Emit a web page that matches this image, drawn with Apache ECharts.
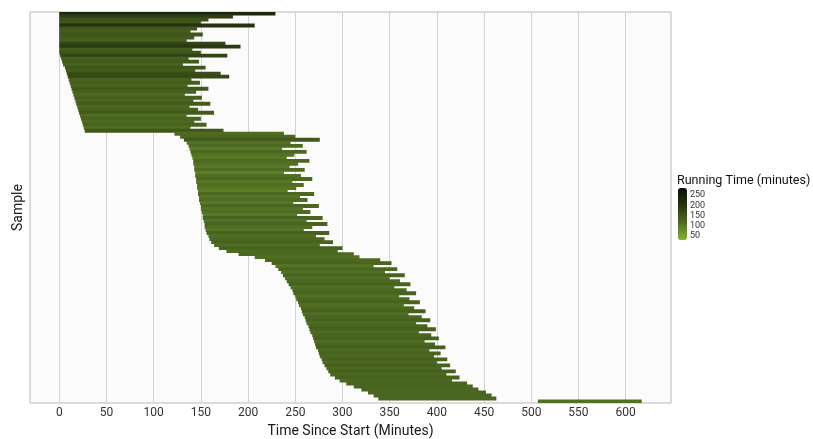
<!DOCTYPE html>
<html>
<head>
<meta charset="utf-8">
<script src="https://cdn.jsdelivr.net/npm/echarts@6/dist/echarts.min.js"></script>
<style>
  html, body { margin: 0; padding: 0; background: #fff; }
  #chart { width: 813px; height: 439px; }
</style>
</head>
<body>
<div id="chart"></div>
<script>
// start of each sample, minutes since start (top row first)
var starts = [
  0, 0, 0, 0, 0, 0, 0, 0, 0, 0, 0, 0, 0, 0,
  1, 2, 3, 4, 6, 7, 8, 9, 10, 11, 12, 13, 14, 15, 16, 17, 18, 19, 20, 21, 22, 23, 24, 25, 26, 27,
  122, 128, 132, 135, 137, 138, 139, 140, 141, 142, 142, 143, 143, 144, 144, 145, 145, 146, 146, 147,
  147, 148, 148, 149, 150, 150, 151, 152, 152, 153, 154, 154, 155, 156, 158, 159, 161, 164, 169, 177,
  190, 207,
  218, 225, 229, 232, 235, 237, 239, 241, 243, 245, 247, 248, 250, 251, 253, 254, 256, 257, 258, 260,
  261, 262, 264, 265, 266, 268, 269, 270, 271, 272, 274, 275, 276, 278, 279, 281, 283, 285, 287, 292,
  297, 304, 312, 320, 327, 333, 338, 507
];

// running time of each sample, minutes
var runTimes = [
  229, 184, 158, 150, 207, 146, 139, 152, 143, 135, 176, 192, 141, 150,
  177, 135, 145, 127, 149, 137, 163, 171, 130, 138, 124, 145, 131, 118, 135, 125, 142, 119, 127, 143,
  113, 127, 119, 131, 113, 147,
  116, 122, 144, 110, 121, 98, 123, 109, 100, 123, 111, 101, 117, 94, 112, 123, 102, 113, 105, 95,
  123, 107, 115, 99, 125, 108, 115, 100, 127, 109, 130, 114, 104, 130, 114, 122, 129, 112, 131, 118,
  122, 111,
  122, 127, 104, 126, 110, 129, 111, 120, 129, 110, 121, 130, 110, 120, 129, 111, 120, 131, 112, 124,
  132, 116, 126, 134, 115, 126, 133, 117, 127, 137, 118, 129, 121, 133, 121, 133, 122, 135, 123, 132,
  119, 128, 126, 124, 125, 125, 125, 110
];

var xTicks = [0, 50, 100, 150, 200, 250, 300, 350, 400, 450, 500, 550, 600];
var legendTicks = [50, 100, 150, 200, 250];
var rtMin = 30, rtMax = 285;

var samples = starts.map(function (s, i) { return 'S' + (i + 1); });
// [running time, sample, running time] -> third column drives the colour
var runData = runTimes.map(function (d, i) { return [d, samples[i], d]; });
var startData = starts.map(function (s, i) { return [s, samples[i]]; });

var barTop = 188, barH = 52;
var legendGraphics = [{
  type: 'text', left: 677, top: 174,
  style: { text: 'Running Time (minutes)', font: '12.5px Roboto', fill: '#111' }
}];
legendTicks.forEach(function (v) {
  legendGraphics.push({
    type: 'text', x: 690, y: barTop + (rtMax - v) / (rtMax - rtMin) * barH,
    style: { text: String(v), font: '9px Roboto', fill: '#333', verticalAlign: 'middle' }
  });
});

var chart = echarts.init(document.getElementById('chart'));
chart.setOption({
  animation: false,
  backgroundColor: '#ffffff',
  textStyle: { fontFamily: 'Roboto' },
  grid: {
    show: true, left: 30, right: 142, top: 12, bottom: 36,
    outerBoundsMode: 'none', containLabel: false,
    backgroundColor: '#fbfbfb', borderColor: '#b8b8b8', borderWidth: 1
  },
  xAxis: {
    type: 'value', min: -31, max: 648,
    name: 'Time Since Start (Minutes)', nameLocation: 'middle', nameGap: 21,
    nameTextStyle: { fontSize: 14, color: '#1a1a1a' },
    axisLine: { show: false },
    axisTick: { show: false, customValues: xTicks },
    axisLabel: { customValues: xTicks, fontSize: 12, color: '#333', margin: 4 },
    splitLine: { show: true, lineStyle: { color: '#d2d2d2', width: 1 } }
  },
  yAxis: {
    type: 'category', data: samples, inverse: true,
    name: 'Sample', nameLocation: 'middle', nameGap: 5, nameRotate: 90,
    nameTextStyle: { fontSize: 14, color: '#1a1a1a' },
    axisLine: { show: false }, axisTick: { show: false },
    axisLabel: { show: false }, splitLine: { show: false }
  },
  visualMap: {
    type: 'continuous', seriesIndex: 1, dimension: 2, min: rtMin, max: rtMax,
    left: 678, top: barTop, itemWidth: 9, itemHeight: barH, padding: 0,
    calculable: false, hoverLink: false,
    inRange: { color: ['#85b234', '#4f6c22', '#27350f', '#0a0d04'] }
  },
  graphic: legendGraphics,
  series: [
    {
      type: 'bar', stack: 'run', data: startData, silent: true,
      encode: { x: 0, y: 1 }, barWidth: '130%',
      itemStyle: { color: 'transparent' }
    },
    {
      type: 'bar', stack: 'run', data: runData, silent: true,
      encode: { x: 0, y: 1 }, barWidth: '130%'
    }
  ]
});
</script>
</body>
</html>
